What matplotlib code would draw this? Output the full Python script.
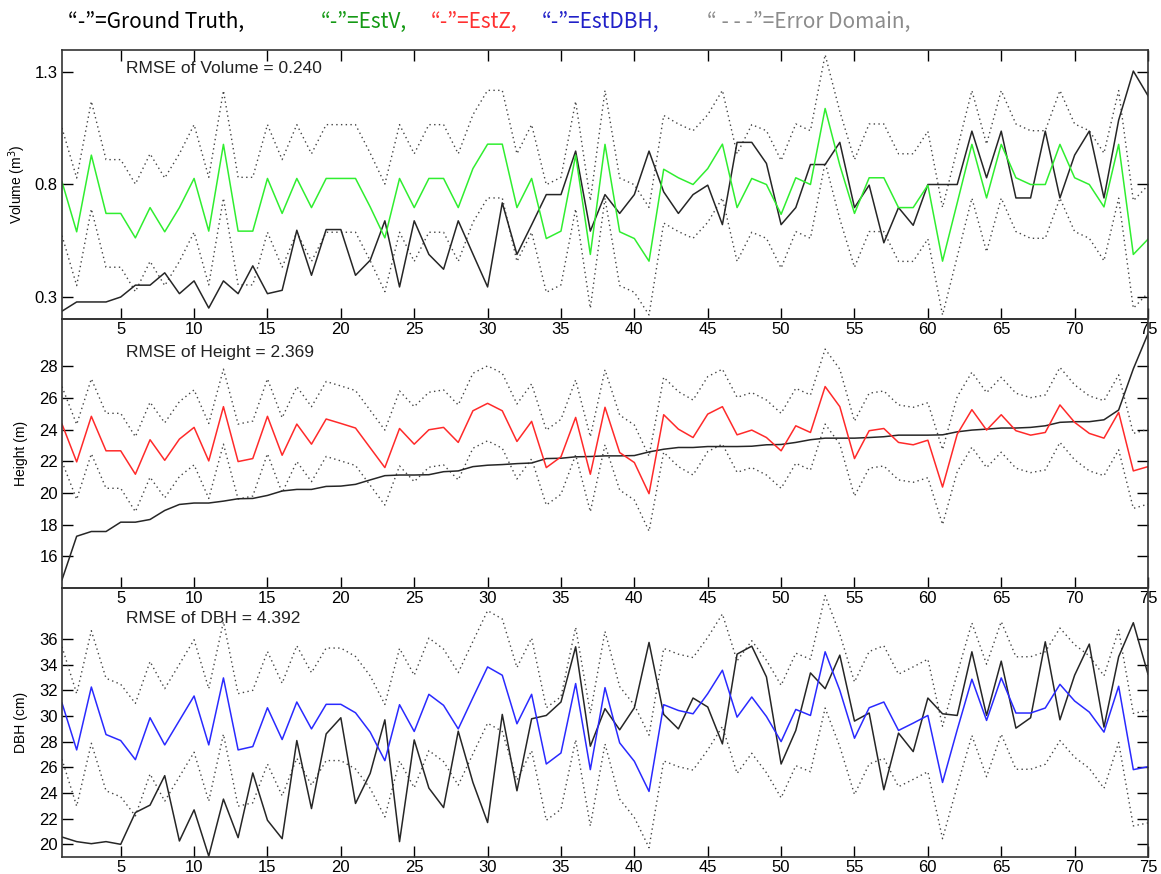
import numpy as np
import matplotlib.pyplot as plt

plt.rcParams['font.family'] = ['Liberation Sans', 'DejaVu Sans']

tree_no = np.arange(1, 76)

vol_true = [0.235, 0.276, 0.276, 0.276, 0.298, 0.351, 0.351, 0.406, 0.313, 0.370,
            0.249, 0.370, 0.313, 0.437, 0.313, 0.328, 0.596, 0.395, 0.599, 0.599,
            0.395, 0.462, 0.638, 0.343, 0.638, 0.488, 0.422, 0.638, 0.490, 0.343,
            0.718, 0.488, 0.620, 0.755, 0.755, 0.949, 0.592, 0.755, 0.671, 0.755,
            0.949, 0.767, 0.671, 0.755, 0.797, 0.621, 0.988, 0.988, 0.894, 0.621,
            0.697, 0.889, 0.889, 0.988, 0.697, 0.797, 0.540, 0.697, 0.618, 0.800,
            0.800, 0.800, 1.038, 0.830, 1.038, 0.740, 0.740, 1.038, 0.740, 0.931,
            1.038, 0.740, 1.087, 1.306, 1.196]
vol_est = [0.812, 0.589, 0.931, 0.671, 0.671, 0.562, 0.697, 0.589, 0.697, 0.827,
           0.592, 0.979, 0.592, 0.592, 0.827, 0.671, 0.827, 0.697, 0.827, 0.827,
           0.827, 0.700, 0.562, 0.827, 0.697, 0.827, 0.827, 0.697, 0.871, 0.980,
           0.980, 0.697, 0.827, 0.559, 0.592, 0.931, 0.488, 0.979, 0.589, 0.559,
           0.458, 0.868, 0.830, 0.800, 0.871, 0.980, 0.697, 0.827, 0.800, 0.667,
           0.830, 0.800, 1.139, 0.886, 0.671, 0.830, 0.830, 0.697, 0.697, 0.797,
           0.458, 0.718, 0.979, 0.740, 0.979, 0.830, 0.800, 0.800, 0.979, 0.830,
           0.800, 0.700, 0.979, 0.488, 0.556]

z_true = [14.52, 17.27, 17.57, 17.57, 18.16, 18.16, 18.33, 18.90, 19.28, 19.37,
          19.37, 19.49, 19.64, 19.66, 19.85, 20.13, 20.23, 20.23, 20.42, 20.44,
          20.55, 20.83, 21.10, 21.14, 21.14, 21.16, 21.35, 21.40, 21.67, 21.76,
          21.80, 21.86, 21.90, 22.18, 22.20, 22.29, 22.31, 22.35, 22.35, 22.37,
          22.60, 22.77, 22.88, 22.88, 22.94, 22.94, 22.94, 22.96, 23.05, 23.07,
          23.20, 23.37, 23.47, 23.47, 23.47, 23.51, 23.56, 23.66, 23.66, 23.66,
          23.68, 23.87, 23.98, 24.04, 24.11, 24.11, 24.15, 24.25, 24.47, 24.51,
          24.51, 24.63, 25.25, 27.85, 30.07]
z_est = [24.36, 21.97, 24.85, 22.67, 22.67, 21.19, 23.37, 22.07, 23.41, 24.15,
         22.03, 25.46, 21.99, 22.18, 24.85, 22.39, 24.36, 23.09, 24.68, 24.40,
         24.11, 22.86, 21.61, 24.08, 23.09, 24.00, 24.15, 23.20, 25.20, 25.67,
         25.20, 23.26, 24.53, 21.61, 22.29, 24.78, 21.19, 25.42, 22.56, 21.93,
         19.96, 24.95, 24.04, 23.51, 24.99, 25.46, 23.68, 23.98, 23.51, 22.67,
         24.25, 23.83, 26.73, 25.46, 22.18, 23.94, 24.08, 23.20, 23.05, 23.34,
         20.38, 23.72, 25.27, 23.98, 24.95, 23.94, 23.66, 23.83, 25.57, 24.47,
         23.77, 23.47, 25.10, 21.40, 21.67]

dbh_true = [20.56, 20.20, 20.04, 20.20, 19.99, 22.47, 23.05, 25.35, 20.25, 22.68,
            19.07, 23.52, 20.51, 25.56, 21.87, 20.43, 28.09, 22.78, 28.61, 29.87,
            23.18, 25.53, 29.71, 20.20, 28.14, 24.38, 22.86, 28.82, 24.82, 21.69,
            30.13, 24.17, 29.79, 30.05, 31.10, 35.41, 27.65, 30.58, 28.93, 30.65,
            35.75, 30.13, 29.00, 31.41, 30.71, 27.83, 34.84, 35.46, 33.06, 26.26,
            28.88, 33.37, 32.14, 34.76, 29.61, 30.24, 24.25, 28.67, 27.23, 31.41,
            30.18, 30.05, 35.02, 30.05, 34.29, 29.06, 29.87, 35.80, 29.71, 33.19,
            35.62, 29.14, 34.63, 37.29, 33.27]
dbh_est = [31.02, 27.36, 32.27, 28.56, 28.09, 26.60, 29.87, 27.75, 29.66, 31.57,
           27.75, 32.98, 27.36, 27.62, 30.65, 28.17, 31.10, 29.00, 30.92, 30.92,
           30.26, 28.75, 26.52, 30.89, 28.80, 31.70, 30.84, 29.00, 31.44, 33.84,
           33.19, 29.40, 31.70, 26.26, 27.12, 32.54, 25.82, 32.22, 27.91, 26.47,
           24.12, 30.89, 30.44, 30.18, 31.75, 33.58, 29.92, 31.49, 29.97, 28.01,
           30.52, 30.05, 35.02, 32.01, 28.27, 30.65, 31.10, 28.88, 29.45, 30.05,
           24.82, 28.93, 32.88, 29.66, 32.98, 30.24, 30.24, 30.63, 32.48, 31.18,
           30.31, 28.75, 32.33, 25.82, 26.05]

rmse_vol = 0.240
rmse_z = 2.369
rmse_dbh = 4.392

W, H = 1161, 874
fig = plt.figure(figsize=(W / 100, H / 100), dpi=100)

left, right = 62 / W, 1148 / W
edges = [50, 319, 588, 857]  # panel borders in pixels from the top

panels = [
    (vol_true, vol_est, rmse_vol, '#30ee30', 'Volume', 'Volume (m$^3$)',
     (0.2, 1.4), [0.3, 0.8, 1.3], '%.1f'),
    (z_true, z_est, rmse_z, '#ff2a2a', 'Height', 'Height (m)',
     (14, 31), np.arange(16, 29, 2), '%d'),
    (dbh_true, dbh_est, rmse_dbh, '#2a2aff', 'DBH', 'DBH (cm)',
     (19, 40), np.arange(20, 37, 2), '%d'),
]
text_y = [0.933, 0.877, 0.888]

for i, (truth, est, rmse, col, name, ylab, ylim, yticks, fmt) in enumerate(panels):
    top, bot = edges[i], edges[i + 1]
    ax = fig.add_axes([left, 1 - bot / H, right - left, (bot - top) / H])
    ax.set_facecolor('none')

    est = np.array(est)
    ax.plot(tree_no, est + rmse, color='#444444', lw=1, ls=(0, (1, 2.4)))
    ax.plot(tree_no, est - rmse, color='#444444', lw=1, ls=(0, (1, 2.4)))
    ax.plot(tree_no, truth, color='#262626', lw=1.1)
    ax.plot(tree_no, est, color=col, lw=1.1)

    ax.set_xlim(1, 75)
    ax.set_ylim(*ylim)
    ax.set_xticks(np.arange(5, 76, 5))
    ax.set_yticks(yticks)
    ax.yaxis.set_major_formatter(plt.FormatStrFormatter(fmt))
    ax.tick_params(direction='in', length=8, width=1, labelsize=12,
                   top=(i == 0), right=True, pad=3)
    ax.tick_params(axis='x', pad=2)
    for sp in ax.spines.values():
        sp.set_linewidth(1.2)
        sp.set_color('#333333')

    ax.set_ylabel(ylab, fontsize=10)
    ax.yaxis.set_label_coords(-0.031, 0.5)
    ax.text(0.0587, text_y[i], 'RMSE of %s = %.3f' % (name, rmse),
            transform=ax.transAxes, fontsize=12.5, va='center', color='#222222')

# header line describing the line colours
legend_parts = [
    (68, '\u201c-\u201d=Ground Truth,', '#000000'),
    (321, '\u201c-\u201d=EstV,', '#149914'),
    (431, '\u201c-\u201d=EstZ,', '#ff3030'),
    (542, '\u201c-\u201d=EstDBH,', '#2020c8'),
    (707, '\u201c - - -\u201d=Error Domain,', '#8c8c8c'),
]
for px, txt, c in legend_parts:
    fig.text(px / W, 1 - 22 / H, txt, color=c, fontsize=15, va='center',
             family=['Noto Sans CJK JP', 'DejaVu Sans'])

fig.savefig('out.png', dpi=100)
